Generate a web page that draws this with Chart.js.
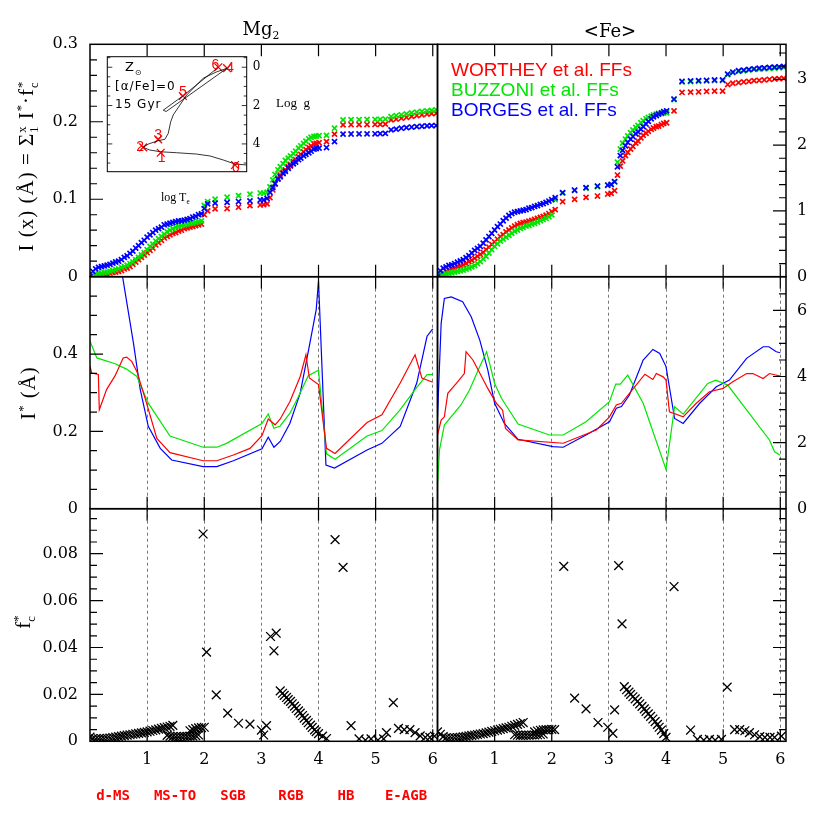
<!DOCTYPE html>
<html>
<head>
<meta charset="utf-8">
<title>Mg2 and Fe: cumulative index, I* and f*c along the isochrone</title>
<script src="https://cdn.jsdelivr.net/npm/chart.js@4.4.1/dist/chart.umd.min.js"></script>
<style>
  body { margin: 0; background: #fff; }
  #page { position: relative; width: 830px; height: 830px; overflow: hidden; background: #fff; }
  #page canvas { position: absolute; left: 0; top: 0; }
  .txt { position: absolute; white-space: nowrap; color: #000; line-height: 1; }
  .serif { font-family: 'DejaVu Serif', serif; }
  .roman { font-family: 'Liberation Serif', serif; }
  .mid { transform: translate(-50%, -50%); }
  .rot { transform: translate(-50%, -50%) rotate(-90deg); }
  .legend { font-family: 'Liberation Sans', sans-serif; font-size: 19px; line-height: 20px; left: 451px; }
  .stage { font-family: 'DejaVu Sans Mono', monospace; font-weight: bold; font-size: 14px; color: #ff0000; top: 795px; }
  .inset { font-family: 'DejaVu Sans', sans-serif; font-size: 12px; letter-spacing: 1px; }
  .ss { display: inline-flex; flex-direction: column; font-size: 0.6em; line-height: 1; vertical-align: middle; }
  sub, sup { font-size: 0.6em; }
</style>
</head>
<body>
<div id="page">
  <canvas id="mgTop" width="830" height="830"></canvas>
  <canvas id="feTop" width="830" height="830"></canvas>
  <canvas id="mgMid" width="830" height="830"></canvas>
  <canvas id="feMid" width="830" height="830"></canvas>
  <canvas id="mgBot" width="830" height="830"></canvas>
  <canvas id="feBot" width="830" height="830"></canvas>
  <canvas id="inset" width="830" height="830"></canvas>

  <div class="txt serif mid" style="left:261px;top:31px;font-size:18px">Mg<sub>2</sub></div>
  <div class="txt serif mid" style="left:610px;top:31px;font-size:18px">&lt;Fe&gt;</div>

  <div class="txt roman rot" style="left:28px;top:166px;font-size:21px;letter-spacing:1px">I (x) (Å) = Σ<span class="ss"><span>x</span><span>1</span></span> I<sup>*</sup>·f<span class="ss"><span>*</span><span>c</span></span></div>
  <div class="txt roman rot" style="left:28px;top:393px;font-size:21px;letter-spacing:1px">I<sup>*</sup> (Å)</div>
  <div class="txt roman rot" style="left:25px;top:622px;font-size:21px">f<span class="ss"><span>*</span><span>c</span></span></div>

  <div class="txt legend" style="top:60px;color:#ff0000">WORTHEY et al. FFs</div>
  <div class="txt legend" style="top:80px;color:#00e600">BUZZONI et al. FFs</div>
  <div class="txt legend" style="top:100px;color:#0000ff">BORGES et al. FFs</div>

  <div class="txt stage mid" style="left:113px">d-MS</div>
  <div class="txt stage mid" style="left:175px">MS-TO</div>
  <div class="txt stage mid" style="left:233px">SGB</div>
  <div class="txt stage mid" style="left:291px">RGB</div>
  <div class="txt stage mid" style="left:346px">HB</div>
  <div class="txt stage mid" style="left:406px">E-AGB</div>

  <div class="txt inset" style="left:125px;top:60px;font-size:13px">Z<sub>⊙</sub></div>
  <div class="txt inset" style="left:115px;top:80px">[α/Fe]=0</div>
  <div class="txt inset" style="left:115px;top:98px">15 Gyr</div>
  <div class="txt roman" style="left:276px;top:96px;font-size:13px">Log&nbsp; g</div>
  <div class="txt roman" style="left:161px;top:191px;font-size:12px">log T<sub>e</sub></div>
</div>

<script>
// ---- data ----

// isochrone points used by the cumulative panels (d-MS+MS-TO, SGB, RGB, HB, E-AGB)
const xIso = [
  0.00, 0.05, 0.10, 0.15, 0.20, 0.25, 0.30, 0.35, 0.40, 0.45,
  0.50, 0.55, 0.60, 0.65, 0.70, 0.75, 0.80, 0.85, 0.90, 0.95,
  1.00, 1.05, 1.10, 1.15, 1.20, 1.25, 1.30, 1.35, 1.40, 1.45,
  1.50, 1.55, 1.60, 1.65, 1.70, 1.75, 1.80, 1.85, 1.90, 1.95, 2.00,
  2.06, 2.19, 2.40, 2.60, 2.80, 2.98, 3.04, 3.10,
  3.15, 3.20, 3.24, 3.29, 3.33, 3.38, 3.42, 3.47, 3.51, 3.56,
  3.60, 3.65, 3.69, 3.74, 3.78, 3.83, 3.87, 3.92, 3.96, 4.01,
  4.14, 4.28, 4.43, 4.57, 4.71, 4.85, 4.99,
  5.08, 5.17, 5.27, 5.36, 5.45, 5.54, 5.63, 5.72, 5.81, 5.90, 5.98, 6.06
];

// Mg2 cumulative I(x)
const mgWorthey = [
  0.000, 0.001, 0.0015, 0.002, 0.0025, 0.003, 0.0035, 0.0045, 0.0055, 0.006,
  0.007, 0.008, 0.010, 0.011, 0.013, 0.016, 0.019, 0.022, 0.025, 0.028,
  0.031, 0.034, 0.037, 0.041, 0.044, 0.047, 0.050, 0.052, 0.054, 0.056,
  0.057, 0.059, 0.060, 0.062, 0.063, 0.064, 0.065, 0.066, 0.067, 0.068, 0.080,
  0.085, 0.0875, 0.088, 0.0897, 0.0917, 0.0926, 0.093, 0.094,
  0.102, 0.112, 0.120, 0.127, 0.131, 0.135, 0.138, 0.142, 0.145, 0.1486,
  0.151, 0.155, 0.158, 0.161, 0.164, 0.167, 0.169, 0.1715, 0.172, 0.173,
  0.1744, 0.184, 0.196, 0.1962, 0.1963, 0.1964, 0.1965,
  0.1966, 0.197, 0.2025, 0.2035, 0.2046, 0.2058, 0.207, 0.208, 0.209, 0.210, 0.2105, 0.211
];
const mgBuzzoni = [
  0.000, 0.002, 0.003, 0.004, 0.0047, 0.0055, 0.006, 0.007, 0.008, 0.009,
  0.010, 0.012, 0.013, 0.015, 0.017, 0.019, 0.022, 0.025, 0.028, 0.031,
  0.035, 0.039, 0.042, 0.046, 0.049, 0.052, 0.055, 0.058, 0.060, 0.062,
  0.064, 0.065, 0.066, 0.067, 0.068, 0.069, 0.069, 0.070, 0.071, 0.072, 0.092,
  0.097, 0.100, 0.1026, 0.1047, 0.1065, 0.108, 0.108, 0.109,
  0.116, 0.125, 0.132, 0.138, 0.142, 0.146, 0.150, 0.153, 0.156, 0.159,
  0.162, 0.166, 0.169, 0.172, 0.175, 0.178, 0.180, 0.181, 0.1815, 0.182,
  0.1825, 0.1917, 0.2025, 0.2027, 0.2028, 0.2029, 0.203,
  0.2031, 0.2035, 0.2067, 0.208, 0.209, 0.210, 0.2115, 0.2124, 0.2133, 0.214, 0.2147, 0.2154
];
const mgBorges = [
  0.000, 0.007, 0.010, 0.012, 0.013, 0.014, 0.015, 0.016, 0.0175, 0.019,
  0.020, 0.022, 0.025, 0.027, 0.030, 0.033, 0.037, 0.040, 0.044, 0.047,
  0.051, 0.054, 0.057, 0.060, 0.062, 0.064, 0.067, 0.068, 0.069, 0.070,
  0.071, 0.072, 0.072, 0.073, 0.074, 0.075, 0.077, 0.078, 0.080, 0.081, 0.088,
  0.094, 0.095, 0.096, 0.097, 0.0978, 0.099, 0.099, 0.101,
  0.109, 0.115, 0.120, 0.126, 0.129, 0.133, 0.136, 0.140, 0.143, 0.1456,
  0.148, 0.151, 0.153, 0.156, 0.158, 0.160, 0.162, 0.1646, 0.1655, 0.166,
  0.1667, 0.1744, 0.184, 0.1842, 0.1843, 0.1844, 0.1845,
  0.1846, 0.185, 0.1895, 0.1905, 0.1917, 0.1925, 0.1932, 0.1938, 0.1942, 0.1947, 0.195, 0.1951
];

// <Fe> cumulative I(x)
const feWorthey = [
  0.00, 0.03, 0.06, 0.08, 0.10, 0.12, 0.13, 0.15, 0.16, 0.18,
  0.20, 0.23, 0.25, 0.28, 0.31, 0.34, 0.37, 0.41, 0.45, 0.49,
  0.53, 0.57, 0.61, 0.64, 0.68, 0.71, 0.74, 0.77, 0.79, 0.81,
  0.82, 0.83, 0.845, 0.855, 0.87, 0.885, 0.90, 0.915, 0.935, 0.96, 0.99,
  1.02, 1.14, 1.175, 1.206, 1.226, 1.256, 1.266, 1.307,
  1.545, 1.68, 1.76, 1.84, 1.89, 1.94, 1.98, 2.03, 2.06, 2.11,
  2.15, 2.18, 2.21, 2.24, 2.26, 2.28, 2.29, 2.31, 2.33, 2.34,
  2.52, 2.80, 2.805, 2.81, 2.815, 2.82, 2.82,
  2.92, 2.94, 2.95, 2.96, 2.97, 2.98, 2.985, 2.99, 3.00, 3.005, 3.01, 3.015
];
const feBuzzoni = [
  0.00, 0.02, 0.035, 0.045, 0.055, 0.06, 0.07, 0.08, 0.09, 0.10,
  0.115, 0.13, 0.15, 0.17, 0.20, 0.23, 0.27, 0.31, 0.36, 0.41,
  0.46, 0.50, 0.54, 0.57, 0.60, 0.63, 0.66, 0.69, 0.71, 0.735,
  0.75, 0.77, 0.78, 0.80, 0.81, 0.83, 0.85, 0.87, 0.885, 0.91, 0.94,
  1.17, 1.27, 1.31, 1.345, 1.37, 1.39, 1.40, 1.44,
  1.74, 1.94, 2.03, 2.09, 2.14, 2.19, 2.23, 2.27, 2.30, 2.34,
  2.37, 2.40, 2.42, 2.44, 2.46, 2.47, 2.48, 2.48, 2.49, 2.49,
  2.69, 2.96, 2.965, 2.97, 2.975, 2.98, 2.98,
  3.07, 3.10, 3.12, 3.13, 3.14, 3.15, 3.155, 3.16, 3.165, 3.17, 3.175, 3.18
];
const feBorges = [
  0.00, 0.09, 0.13, 0.15, 0.17, 0.18, 0.20, 0.22, 0.24, 0.26,
  0.29, 0.32, 0.36, 0.40, 0.43, 0.46, 0.51, 0.56, 0.61, 0.66,
  0.71, 0.76, 0.80, 0.85, 0.89, 0.93, 0.96, 0.98, 0.99, 1.00,
  1.01, 1.02, 1.04, 1.05, 1.07, 1.08, 1.10, 1.11, 1.13, 1.15, 1.17,
  1.20, 1.277, 1.317, 1.353, 1.378, 1.393, 1.403, 1.444,
  1.67, 1.84, 1.92, 1.99, 2.04, 2.09, 2.13, 2.17, 2.20, 2.24,
  2.28, 2.32, 2.36, 2.40, 2.43, 2.45, 2.47, 2.49, 2.51, 2.52,
  2.70, 2.97, 2.975, 2.98, 2.985, 2.99, 2.99,
  3.08, 3.11, 3.13, 3.14, 3.15, 3.16, 3.17, 3.175, 3.18, 3.185, 3.19, 3.195
];

// I* curves, Mg2
const mgIsRedX = [0, 0.03, 0.146, 0.163, 0.29, 0.44, 0.58, 0.64, 0.73, 0.82, 0.99, 1.17, 1.40, 1.98, 2.22, 2.51, 2.80, 3.01, 3.12, 3.24, 3.33, 3.50, 3.68, 3.78, 3.84, 4.0, 4.14, 4.29, 4.85, 5.11, 5.43, 5.69, 5.81, 6.0];
const mgIsRedY = [0.368, 0.351, 0.347, 0.256, 0.308, 0.344, 0.39, 0.392, 0.381, 0.355, 0.273, 0.182, 0.145, 0.124, 0.124, 0.139, 0.156, 0.189, 0.232, 0.217, 0.232, 0.277, 0.342, 0.398, 0.338, 0.321, 0.156, 0.143, 0.223, 0.243, 0.325, 0.398, 0.338, 0.327];
const mgIsGreenX = [0, 0.12, 0.44, 0.64, 0.82, 1.02, 1.40, 1.98, 2.22, 2.39, 3.01, 3.12, 3.22, 3.33, 3.50, 3.65, 3.82, 4.0, 4.14, 4.29, 4.85, 5.11, 5.43, 5.69, 5.9, 6.0];
const mgIsGreenY = [0.433, 0.39, 0.375, 0.361, 0.342, 0.273, 0.188, 0.159, 0.159, 0.169, 0.22, 0.245, 0.208, 0.214, 0.247, 0.29, 0.344, 0.358, 0.142, 0.128, 0.188, 0.202, 0.256, 0.308, 0.347, 0.347];
const mgIsBlueX = [0, 0.3, 0.57, 0.76, 0.88, 1.02, 1.23, 1.43, 1.98, 2.22, 2.51, 3.01, 3.12, 3.22, 3.33, 3.50, 3.68, 3.85, 3.96, 4.0, 4.13, 4.28, 4.85, 5.11, 5.43, 5.72, 5.9, 6.0];
const mgIsBlueY = [0.9, 0.85, 0.6, 0.429, 0.308, 0.213, 0.156, 0.126, 0.109, 0.109, 0.124, 0.155, 0.185, 0.159, 0.174, 0.221, 0.299, 0.429, 0.515, 0.589, 0.113, 0.105, 0.152, 0.169, 0.213, 0.325, 0.446, 0.465];

// I* curves, <Fe>
const feIsRedX = [0, 0.064, 0.12, 0.18, 0.33, 0.47, 0.5, 0.62, 0.76, 0.88, 1.03, 1.14, 1.19, 1.41, 2.2, 2.78, 3.01, 3.13, 3.22, 3.36, 3.63, 3.77, 3.83, 3.95, 4.0, 4.06, 4.3, 4.53, 4.76, 5.0, 5.17, 5.41, 5.52, 5.7, 5.81, 6.0];
const feIsRedY = [2.23, 2.68, 2.78, 3.49, 3.79, 4.09, 4.75, 4.5, 4.04, 3.64, 3.19, 2.98, 2.43, 2.08, 1.98, 2.38, 2.78, 3.14, 3.19, 3.49, 4.07, 3.91, 4.09, 3.99, 3.89, 2.93, 2.78, 3.19, 3.54, 3.64, 3.84, 4.09, 4.09, 3.94, 4.09, 4.01];
const feIsGreenX = [0, 0.035, 0.12, 0.41, 0.56, 0.74, 0.86, 1.0, 1.12, 1.41, 1.96, 2.2, 2.6, 3.01, 3.12, 3.2, 3.33, 3.6, 4.0, 4.15, 4.3, 4.73, 4.87, 5.08, 5.81, 5.9, 6.0];
const feIsGreenY = [0.72, 1.78, 2.53, 3.14, 3.59, 4.3, 4.75, 3.79, 3.34, 2.56, 2.23, 2.23, 2.63, 3.24, 3.77, 3.77, 4.04, 3.19, 1.19, 3.09, 2.86, 3.79, 3.89, 3.74, 2.08, 1.72, 1.62];
const feIsBlueX = [0, 0.064, 0.12, 0.24, 0.44, 0.59, 0.74, 0.88, 1.0, 1.17, 1.41, 2.02, 2.2, 2.6, 3.01, 3.13, 3.22, 3.36, 3.6, 3.77, 3.89, 4.0, 4.15, 4.3, 4.59, 4.88, 5.11, 5.41, 5.7, 5.8, 5.93, 6.0];
const feIsBlueY = [2.78, 5.61, 6.36, 6.41, 6.26, 5.81, 5.1, 4.2, 3.19, 2.58, 2.1, 1.88, 1.86, 2.23, 2.63, 3.04, 3.09, 3.44, 4.5, 4.82, 4.7, 4.3, 2.73, 2.58, 3.19, 3.69, 3.89, 4.55, 4.9, 4.9, 4.75, 4.72];

// f*c, Mg2
const fcMgX = [
  0.00, 0.05, 0.10, 0.15, 0.20, 0.25, 0.30, 0.35, 0.40, 0.45, 0.50, 0.55, 0.60, 0.65, 0.70,
  0.75, 0.80, 0.85, 0.90, 0.95, 1.00, 1.05, 1.10, 1.15, 1.20, 1.25, 1.30, 1.35, 1.40, 1.45,
  1.35, 1.40, 1.45, 1.50, 1.55, 1.60, 1.65, 1.70, 1.75, 1.80, 1.85, 1.90,
  1.75, 1.80, 1.85, 1.90, 1.95, 2.00,
  1.98, 2.04, 2.21, 2.41, 2.60, 2.80, 3.00, 3.04, 3.09, 3.16, 3.22, 3.26,
  3.33, 3.37, 3.40, 3.44, 3.47, 3.51, 3.54, 3.58, 3.61, 3.65, 3.68, 3.72, 3.75, 3.79, 3.82,
  3.86, 3.89, 3.93, 3.96, 4.00, 4.07, 4.14,
  4.29, 4.43, 4.57, 4.71, 4.82, 4.92, 5.04, 5.14,
  5.19, 5.31, 5.40, 5.50, 5.60, 5.69, 5.78, 5.87, 5.95, 6.03
];
const fcMgY = [
  0.0018, 0.0012, 0.0010, 0.0010, 0.0011, 0.0012, 0.0013, 0.0014, 0.0016, 0.0018, 0.0020, 0.0022, 0.0024, 0.0026, 0.0028,
  0.0030, 0.0032, 0.0034, 0.0036, 0.0038, 0.0040, 0.0043, 0.0046, 0.0049, 0.0052, 0.0055, 0.0058, 0.0061, 0.0064, 0.0068,
  0.0025, 0.0022, 0.0020, 0.0019, 0.0019, 0.0020, 0.0021, 0.0021, 0.0022, 0.0022, 0.0024, 0.0027,
  0.0045, 0.0050, 0.0054, 0.0057, 0.0058, 0.0060,
  0.0884, 0.0380, 0.0198, 0.0120, 0.0077, 0.0073, 0.0048, 0.0027, 0.0067, 0.0447, 0.0386, 0.0461,
  0.0215, 0.0205, 0.0196, 0.0187, 0.0178, 0.0170, 0.0160, 0.0150, 0.0140, 0.0130, 0.0120, 0.0110, 0.0099, 0.0089, 0.0079,
  0.0069, 0.0059, 0.0049, 0.0041, 0.0033, 0.0022, 0.0012,
  0.0860, 0.0742, 0.0067, 0.0010, 0.0005, 0.0010, 0.0005, 0.0010,
  0.0037, 0.0165, 0.0055, 0.0050, 0.0050, 0.0037, 0.0023, 0.0017, 0.0017, 0.0022
];

// f*c, <Fe>
const fcFeX = [
  0.00, 0.05, 0.10, 0.15, 0.20, 0.25, 0.30, 0.35, 0.40, 0.45, 0.50, 0.55, 0.60, 0.65, 0.70, 0.75,
  0.80, 0.85, 0.90, 0.95, 1.00, 1.05, 1.10, 1.15, 1.20, 1.25, 1.30, 1.35, 1.40, 1.45, 1.50,
  1.35, 1.40, 1.45, 1.50, 1.55, 1.60, 1.65, 1.70, 1.75, 1.80, 1.85,
  1.70, 1.75, 1.80, 1.85, 1.90, 1.95, 2.00, 2.05,
  2.21, 2.40, 2.60, 2.81, 2.98, 3.07, 3.10, 3.17, 3.23,
  3.27, 3.31, 3.35, 3.38, 3.42, 3.46, 3.50, 3.54, 3.58, 3.62,
  3.65, 3.69, 3.73, 3.77, 3.81, 3.85, 3.88, 3.92, 3.96, 4.00,
  4.14, 4.43, 4.55, 4.66, 4.76, 4.86, 4.97,
  5.07, 5.20, 5.29, 5.38, 5.46, 5.55, 5.64, 5.73, 5.82, 5.90, 6.02
];
const fcFeY = [
  0.0040, 0.0030, 0.0020, 0.0015, 0.0014, 0.0014, 0.0015, 0.0016, 0.0017, 0.0019, 0.0021, 0.0023, 0.0025, 0.0027, 0.0029, 0.0031,
  0.0033, 0.0036, 0.0039, 0.0042, 0.0045, 0.0048, 0.0051, 0.0054, 0.0057, 0.0060, 0.0064, 0.0068, 0.0072, 0.0076, 0.0080,
  0.0028, 0.0026, 0.0025, 0.0025, 0.0026, 0.0026, 0.0027, 0.0027, 0.0028, 0.0029, 0.0031,
  0.0040, 0.0044, 0.0047, 0.0049, 0.0050, 0.0050, 0.0051, 0.0050,
  0.0746, 0.0184, 0.0138, 0.0080, 0.0060, 0.0034, 0.0134, 0.0749, 0.0501,
  0.0233, 0.0220, 0.0210, 0.0200, 0.0190, 0.0181, 0.0170, 0.0160, 0.0149, 0.0138,
  0.0128, 0.0117, 0.0106, 0.0095, 0.0084, 0.0072, 0.0060, 0.0048, 0.0033, 0.0017,
  0.0660, 0.0048, 0.0008, 0.0005, 0.0008, 0.0005, 0.0008,
  0.0231, 0.0050, 0.0050, 0.0045, 0.0037, 0.0028, 0.0020, 0.0017, 0.0017, 0.0017, 0.0022
];

// inset HR diagram: isochrone track and phase boundaries 0..6
const insetTe = [3.522, 3.550, 3.578, 3.610, 3.642, 3.690, 3.728, 3.754, 3.770, 3.758, 3.734, 3.718, 3.710, 3.704, 3.698, 3.682, 3.666, 3.626, 3.595, 3.569, 3.715, 3.722, 3.675, 3.590];
const insetLogg = [5.10, 5.05, 4.84, 4.63, 4.53, 4.46, 4.41, 4.32, 4.18, 4.01, 3.83, 3.76, 3.45, 2.84, 2.49, 1.97, 1.45, 0.57, 0.25, 0.05, 2.31, 2.24, 1.50, 0.00];
const phaseTe = [3.550, 3.728, 3.770, 3.734, 3.569, 3.675, 3.590];
const phaseLogg = [5.10, 4.46, 4.18, 3.76, 0.05, 1.50, 0.00];
const phaseNames = ['0', '1', '2', '3', '4', '5', '6'];

// tick labels
const xTickLabels = ['1', '2', '3', '4', '5', '6'];
const mgTopTicks = ['0', '0.1', '0.2', '0.3'];
const feTopTicks = ['0', '1', '2', '3'];
const mgMidTicks = ['0', '0.2', '0.4'];
const feMidTicks = ['0', '2', '4', '6'];
const fcTicks = ['0', '0.02', '0.04', '0.06', '0.08'];
const insetTicks = ['0', '2', '4'];

// tick marks
const xMajor = [1, 2, 3, 4, 5, 6];
const mgTopMinor = [0.02, 0.04, 0.06, 0.08, 0.12, 0.14, 0.16, 0.18, 0.22, 0.24, 0.26, 0.28];
const feTopMinor = [0.2, 0.4, 0.6, 0.8, 1.2, 1.4, 1.6, 1.8, 2.2, 2.4, 2.6, 2.8, 3.2, 3.4];
const mgMidMinor = [0.05, 0.1, 0.15, 0.25, 0.3, 0.35, 0.45, 0.5, 0.55];
const feMidMinor = [0.5, 1, 1.5, 2.5, 3, 3.5, 4.5, 5, 5.5, 6.5];
const fcMinor = [0.005, 0.01, 0.015, 0.025, 0.03, 0.035, 0.045, 0.05, 0.055, 0.065, 0.07, 0.075, 0.085, 0.09, 0.095];
const insetMinor = [-0.5, 0.5, 1, 1.5, 2.5, 3, 3.5, 4.5, 5];

// ---- styling ----
const RED = '#ff0000', GREEN = '#00e600', BLUE = '#0000ff';
const TICK_FONT = { family: "'DejaVu Serif', serif", size: 16 };
const LABEL_OFFSETS = [[1, 3], [1, 5], [-3, 0], [0, -4], [3, 0], [0, -4], [-3, -2]];

// plot-area boxes on the page
const LEFT = { l: 90, r: 437.5 }, RIGHT = { l: 437.5, r: 786 };
const TOP = { t: 44.3, b: 276.7 }, MID = { t: 276.7, b: 508.7 }, BOT = { t: 508.7, b: 741.3 };

function pts(xs, ys) {
  return xs.map((x, i) => ({ x: x, y: ys[i] }));
}

function crosses(xs, ys, color, r, w, order) {
  return {
    data: pts(xs, ys), showLine: false, order: order,
    pointStyle: 'crossRot', pointRadius: r, pointHoverRadius: r,
    pointBorderColor: color, pointBackgroundColor: color, pointBorderWidth: w, borderColor: color
  };
}

function curve(xs, ys, color) {
  return {
    data: pts(xs, ys), showLine: true, pointRadius: 0, borderColor: color,
    borderWidth: 1.2, tension: 0, clip: 0
  };
}

// Inward ticks and the panel frame, placed through the chart scales
const frameTicks = {
  id: 'frameTicks',
  afterDraw(chart, args, o) {
    const ctx = chart.ctx, a = chart.chartArea;
    const xs = chart.scales.x, ys = chart.scales.y;
    ctx.save();
    ctx.strokeStyle = '#000';
    ctx.lineWidth = o.tickWidth;
    ctx.beginPath();
    (o.xMajor || []).forEach(v => {
      const px = xs.getPixelForValue(v);
      ctx.moveTo(px, a.bottom); ctx.lineTo(px, a.bottom - o.xLen);
      ctx.moveTo(px, a.top); ctx.lineTo(px, a.top + o.xLen);
    });
    const sides = o.ySide === 'both' ? ['left', 'right'] : [o.ySide];
    sides.forEach(s => {
      const x0 = s === 'left' ? a.left : a.right;
      const dir = s === 'left' ? 1 : -1;
      (o.yMajor || []).forEach(v => {
        const py = ys.getPixelForValue(v);
        ctx.moveTo(x0, py); ctx.lineTo(x0 + dir * o.yMajorLen, py);
      });
      (o.yMinor || []).forEach(v => {
        const py = ys.getPixelForValue(v);
        ctx.moveTo(x0, py); ctx.lineTo(x0 + dir * o.yMinorLen, py);
      });
    });
    ctx.stroke();
    ctx.lineWidth = o.frameWidth;
    ctx.strokeRect(a.left, a.top, a.right - a.left, a.bottom - a.top);
    ctx.restore();
  }
};

// Numbers next to the phase markers of the inset
const phaseLabels = {
  id: 'phaseLabels',
  afterDatasetsDraw(chart) {
    const meta = chart.getDatasetMeta(1);
    const ctx = chart.ctx;
    ctx.save();
    ctx.fillStyle = RED;
    ctx.font = "14px 'Liberation Sans', sans-serif";
    ctx.textAlign = 'center';
    ctx.textBaseline = 'middle';
    meta.data.forEach((el, i) => {
      const off = LABEL_OFFSETS[i];
      ctx.fillText(phaseNames[i], el.x + off[0], el.y + off[1]);
    });
    ctx.restore();
  }
};

// Every panel fills the whole page canvas; the axis boxes are sized so
// that the plot area lands on the given box and the labels fit outside it.
function makePanel(id, col, row, cfg) {
  const onLeft = cfg.ySide === 'left';
  const yW = onLeft ? col.l : 830 - col.r;
  const xH = cfg.xLabels ? 830 - row.b : 0;
  return new Chart(document.getElementById(id), {
    type: 'scatter',
    data: { datasets: cfg.datasets },
    plugins: [frameTicks],
    options: {
      responsive: false,
      animation: false,
      events: [],
      layout: {
        padding: {
          left: onLeft ? 0 : col.l,
          right: onLeft ? 830 - col.r : 0,
          top: row.t,
          bottom: 830 - row.b - xH
        }
      },
      plugins: {
        legend: { display: false },
        tooltip: { enabled: false },
        frameTicks: {
          xMajor: xMajor, xLen: 12, ySide: cfg.ySide,
          yMajor: cfg.yMajor, yMinor: cfg.yMinor, yMajorLen: 13, yMinorLen: 7,
          tickWidth: 1.2, frameWidth: 1.5
        }
      },
      scales: {
        x: {
          type: 'linear', position: 'bottom', min: 0, max: cfg.xMax,
          afterFit: s => { s.height = xH; },
          afterBuildTicks: s => { s.ticks = xTickLabels.map(t => ({ value: +t })); },
          ticks: {
            display: cfg.xLabels, font: TICK_FONT, color: '#000', padding: 9,
            maxRotation: 0, autoSkip: false, callback: (v, i) => xTickLabels[i]
          },
          grid: { display: cfg.dashed, drawTicks: false, color: '#555', lineWidth: 0.8 },
          border: { display: false, dash: [3, 3] }
        },
        y: {
          type: 'linear', position: cfg.ySide, min: 0, max: cfg.yMax,
          afterFit: s => { s.width = yW; },
          afterBuildTicks: s => { s.ticks = cfg.yLabels.map(t => ({ value: +t })); },
          ticks: {
            display: cfg.yLabels.length > 0, font: TICK_FONT, color: '#000',
            padding: onLeft ? 12 : 11, callback: (v, i) => cfg.yLabels[i]
          },
          grid: { display: false, drawTicks: false },
          border: { display: false }
        }
      }
    }
  });
}

// ---- top row: cumulative index ----
makePanel('mgTop', LEFT, TOP, {
  xMax: 6.083, yMax: 0.3, ySide: 'left', yLabels: mgTopTicks, xLabels: false, dashed: false,
  yMajor: [0.1, 0.2], yMinor: mgTopMinor,
  datasets: [
    crosses(xIso, mgWorthey, RED, 3.6, 1.7, 3),
    crosses(xIso, mgBuzzoni, GREEN, 3.6, 1.7, 2),
    crosses(xIso, mgBorges, BLUE, 3.6, 1.7, 1)
  ]
});
makePanel('feTop', RIGHT, TOP, {
  xMax: 6.10, yMax: 3.532, ySide: 'right', yLabels: feTopTicks, xLabels: false, dashed: false,
  yMajor: [1, 2, 3], yMinor: feTopMinor,
  datasets: [
    crosses(xIso, feWorthey, RED, 3.6, 1.7, 3),
    crosses(xIso, feBuzzoni, GREEN, 3.6, 1.7, 2),
    crosses(xIso, feBorges, BLUE, 3.6, 1.7, 1)
  ]
});

// ---- middle row: I* ----
makePanel('mgMid', LEFT, MID, {
  xMax: 6.083, yMax: 0.6, ySide: 'left', yLabels: mgMidTicks, xLabels: false, dashed: true,
  yMajor: [0.2, 0.4], yMinor: mgMidMinor,
  datasets: [
    curve(mgIsRedX, mgIsRedY, RED),
    curve(mgIsGreenX, mgIsGreenY, GREEN),
    curve(mgIsBlueX, mgIsBlueY, BLUE)
  ]
});
makePanel('feMid', RIGHT, MID, {
  xMax: 6.10, yMax: 7.02, ySide: 'right', yLabels: feMidTicks, xLabels: false, dashed: true,
  yMajor: [2, 4, 6], yMinor: feMidMinor,
  datasets: [
    curve(feIsRedX, feIsRedY, RED),
    curve(feIsGreenX, feIsGreenY, GREEN),
    curve(feIsBlueX, feIsBlueY, BLUE)
  ]
});

// ---- bottom row: f*c ----
makePanel('mgBot', LEFT, BOT, {
  xMax: 6.083, yMax: 0.0992, ySide: 'left', yLabels: fcTicks, xLabels: true, dashed: true,
  yMajor: [0.02, 0.04, 0.06, 0.08], yMinor: fcMinor,
  datasets: [crosses(fcMgX, fcMgY, '#000', 6.2, 1.3, 1)]
});
makePanel('feBot', RIGHT, BOT, {
  xMax: 6.10, yMax: 0.0992, ySide: 'right', yLabels: [], xLabels: true, dashed: true,
  yMajor: [0.02, 0.04, 0.06, 0.08], yMinor: fcMinor,
  datasets: [crosses(fcFeX, fcFeY, '#000', 6.2, 1.3, 1)]
});

// ---- inset HR diagram ----
const INSET_AXIS_W = 30;
new Chart(document.getElementById('inset'), {
  type: 'scatter',
  data: {
    datasets: [
      { data: pts(insetTe, insetLogg), showLine: true, pointRadius: 0, borderColor: '#000', borderWidth: 0.8, tension: 0 },
      crosses(phaseTe, phaseLogg, RED, 5.5, 1.3, 0)
    ]
  },
  plugins: [frameTicks, phaseLabels],
  options: {
    responsive: false,
    animation: false,
    events: [],
    layout: { padding: { left: 107.3, right: 830 - 246.7 - INSET_AXIS_W, top: 56.7, bottom: 830 - 171.7 } },
    plugins: {
      legend: { display: false },
      tooltip: { enabled: false },
      frameTicks: {
        xMajor: [], xLen: 0, ySide: 'both', yMajor: [0, 2, 4], yMinor: insetMinor,
        yMajorLen: 5, yMinorLen: 3, tickWidth: 0.8, frameWidth: 1
      }
    },
    scales: {
      x: { type: 'linear', min: 3.522, max: 3.856, reverse: true, display: false },
      y: {
        type: 'linear', position: 'right', min: -0.55, max: 5.45, reverse: true,
        afterFit: s => { s.width = INSET_AXIS_W; },
        afterBuildTicks: s => { s.ticks = insetTicks.map(t => ({ value: +t })); },
        ticks: { font: { family: "'DejaVu Serif', serif", size: 12 }, color: '#000', padding: 6, callback: (v, i) => insetTicks[i] },
        grid: { display: false, drawTicks: false },
        border: { display: false }
      }
    }
  }
});
</script>
</body>
</html>
